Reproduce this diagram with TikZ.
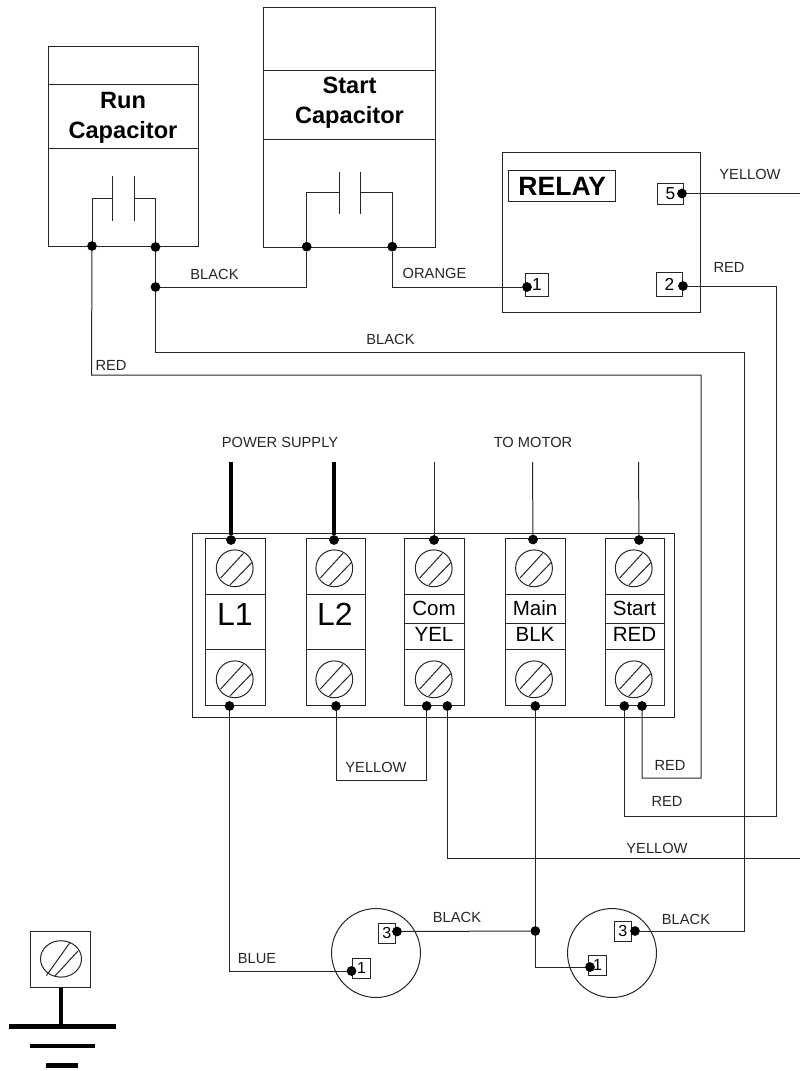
\documentclass[tikz,border=0pt]{standalone}
\usepackage{fontspec}
\setmainfont{Liberation Sans}
\usetikzlibrary{calc}
\tikzset{
  wire/.style={line width=0.75pt,draw=black!85},
  power/.style={line width=2.7pt,draw=black},
  box/.style={line width=0.75pt,draw=black!85},
  dot/.style={circle,fill=black,inner sep=0pt,minimum size=7.3pt,outer sep=0pt},
  lbl/.style={inner sep=0pt,font=\fontsize{11}{13}\selectfont,text=black!85},
  title/.style={inner sep=0pt,align=center,font=\fontsize{17.7}{22.5}\selectfont\bfseries},
  term/.style={inner sep=0pt,font=\fontsize{15.4}{18}\selectfont},
  big/.style={inner sep=0pt,font=\fontsize{24}{28}\selectfont},
  pinbox/.style={draw=black!85,line width=0.75pt,inner sep=0pt,fill=white,font=\fontsize{12}{14}\selectfont},
  motor/.style={circle,draw=black!85,line width=0.75pt,minimum size=66.7pt,inner sep=0pt},
}
\newcommand{\screwmark}[3]{%
  \coordinate (#1) at (#2,#3);
  \draw[wire] (#1) circle[radius=18.4];
  \draw[wire] ($(#1)+(-14,9.7)$) -- ($(#1)+(8.7,-15)$);
  \draw[wire] ($(#1)+(-4.7,16.7)$) -- ($(#1)+(17,-5.7)$);
}
\newcommand{\termstrip}[5]{% left right midflag name centre
  \draw[box] (#1,538.7) rectangle (#2,705.3);
  \draw[box] (#1,594.7) -- (#2,594.7);
  \draw[box] (#1,649) -- (#2,649);
  \ifx&#3&\else\draw[box] (#1,623) -- (#2,623);\fi
  \screwmark{s#4t}{#5}{568.3}
  \screwmark{s#4b}{#5}{679.3}
}
\begin{document}
\begin{tikzpicture}[x=0.75pt,y=-0.75pt]
\useasboundingbox (0,0) rectangle (800,1071);
% Run capacitor
\draw[box] (48.3,46) rectangle (198,246.7);
\draw[box] (48.3,84) -- (198,84);
\draw[box] (48.3,148) -- (198,148);
\node[title] (runlabel) at (123,117.5) {Run\\Capacitor};
\draw[wire] (112.3,176) -- (112.3,220.7);
\draw[wire] (134,176) -- (134,220.7);
% Start capacitor
\draw[box] (263.7,7) rectangle (435.7,247.5);
\draw[box] (263.7,70.5) -- (435.7,70.5);
\draw[box] (263.7,139.5) -- (435.7,139.5);
\node[title] (startlabel) at (349.5,103) {Start\\Capacitor};
\draw[wire] (339,172) -- (339,214);
\draw[wire] (360.3,172) -- (360.3,214);
% Relay
\draw[box] (502,152.7) rectangle (700,312);
\node[draw=black!85,line width=0.75pt,minimum width=80pt,minimum height=23.8pt,inner sep=0pt,font=\fontsize{19.9}{22}\selectfont\bfseries] (relay) at (562.2,186) {RELAY};
\node[pinbox,minimum width=19.5pt,minimum height=15.3pt,font=\fontsize{13}{15}\selectfont] (p5) at (670.5,194) {5};
\node[pinbox,minimum width=19.5pt,minimum height=17.5pt,font=\fontsize{13}{15}\selectfont] (p2) at (669.5,284.5) {2};
\node[pinbox,minimum width=17pt,minimum height=16.8pt,font=\fontsize{13}{15}\selectfont] (p1) at (537,285) {1};
% Terminal block
\draw[box] (192.3,533.3) rectangle (674,717.7);
\termstrip{205}{265}{}{a}{234.7}
\termstrip{306}{365}{}{b}{334.3}
\termstrip{404}{464}{x}{c}{433.7}
\termstrip{505}{565}{x}{d}{534}
\termstrip{605}{664}{x}{e}{633.7}
\node[big] (l1) at (235,614.5) {L1};
\node[big] (l2) at (335,614.5) {L2};
\node[term] (com) at (434,608) {Com};
\node[term] (yel) at (434,634) {YEL};
\node[term] (main) at (535,608) {Main};
\node[term] (blk) at (535,634) {BLK};
\node[term] (start) at (634.5,608) {Start};
\node[term] (red) at (634.5,634) {RED};
% Motor-side devices
\node[motor] (m1) at (376,953) {};
\node[motor] (m2) at (612,953) {};
\node[pinbox,minimum width=13pt,minimum height=15pt] (m1p3) at (386.7,933) {3};
\node[pinbox,minimum width=13pt,minimum height=15pt] (m1p1) at (361.5,968) {1};
\node[pinbox,minimum width=13pt,minimum height=15pt] (m2p3) at (622.7,931) {3};
\node[pinbox,minimum width=13pt,minimum height=15pt] (m2p1) at (597.5,965) {1};
% Ground
\draw[box] (30,931) rectangle (90,987.7);
\draw[wire] (61,958.9) ellipse[x radius=20.5,y radius=18.2];
\draw[wire] (46.5,975.5) -- (70,942.5);
\draw[wire] (54.5,976.5) -- (78,951);
\coordinate (gtop) at (61,987.7);
\coordinate (gbar) at (61,1026.7);
\draw[line width=3.2pt] (gtop) -- (gbar);
\coordinate (g1a) at (9,1026.7); \coordinate (g1b) at (116,1026.7);
\coordinate (g2a) at (30,1046); \coordinate (g2b) at (95,1046);
\coordinate (g3a) at (46,1065.7); \coordinate (g3b) at (78,1065.7);
\draw[line width=3.4pt] (g1a) -- (g1b);
\draw[line width=3.4pt] (g2a) -- (g2b);
\draw[line width=3.4pt] (g3a) -- (g3b);
% Dots
\node[dot] (rl) at (92,246) {};
\node[dot] (rr) at (155.5,247) {};
\node[dot] (rj) at (155.5,287) {};
\node[dot] (sl) at (306.7,246.7) {};
\node[dot] (sr) at (392.3,246.7) {};
\node[dot] (d1) at (527,287) {};
\node[dot] (d2) at (683,286) {};
\node[dot] (d5) at (682,193.5) {};
\node[dot] (ta) at (231,540) {};
\node[dot] (tb) at (334,540) {};
\node[dot] (tc) at (434,540) {};
\node[dot] (td) at (533,539.5) {};
\node[dot] (te) at (639,540) {};
\node[dot] (ba) at (229.5,706) {};
\node[dot] (bb) at (336,706) {};
\node[dot] (bc1) at (426.7,706) {};
\node[dot] (bc2) at (447.3,706) {};
\node[dot] (bd) at (535.3,706) {};
\node[dot] (be1) at (624.3,706) {};
\node[dot] (be2) at (642,706) {};
\node[dot] (md1) at (351.5,971) {};
\node[dot] (md3) at (397,931.5) {};
\node[dot] (nd1) at (590,967) {};
\node[dot] (nd3) at (635,931) {};
\node[dot] (j) at (535.3,931) {};
% Free wire ends and bends
\coordinate (pa) at (231,462);
\coordinate (pb) at (334,462);
\coordinate (pc) at (434,462);
\coordinate (pd) at (532.5,462);
\coordinate (pe) at (638.5,462);
\coordinate (e5) at (800,193.5);
\coordinate (ey) at (800,858);
\coordinate (cl) at (91,198);
\coordinate (cr) at (155.5,198);
\coordinate (sc) at (306.7,192);
\coordinate (sd) at (392.3,192);
\coordinate (rb) at (91.5,375);
\coordinate (rc) at (701,375);
\coordinate (rd) at (701,778);
\coordinate (bk1) at (155.5,352.7);
\coordinate (bk2) at (744,352.7);
\coordinate (rr1) at (776,286);
\coordinate (rr2) at (776,816);
\coordinate (yl) at (447.3,858);
\coordinate (yj) at (336,780);
\coordinate (yk) at (426.7,780);
\coordinate (cl2) at (112.3,198);
\coordinate (cr2) at (134,198);
\coordinate (sc2) at (339,192);
\coordinate (sd2) at (360.3,192);
% Capacitor leads
\draw[wire] (rl) -- (rl |- cl) -- (cl2);
\draw[wire] (rr) -- (cr) -- (cr2);
\draw[wire] (sl) -- (sc) -- (sc2);
\draw[wire] (sr) -- (sd) -- (sd2);
% Wires
\draw[wire] (rr) -- (rj);
\draw[wire] (rj) -| (sl);
\draw[wire] (sr) |- (d1);
\draw[wire] (rj) -- (bk1) -- (bk2) |- (nd3);
\draw[wire] (rl) -- (rb) -- (rc) -- (rd) -| (be2);
\draw[wire] (d2) -- (rr1) -- (rr2) -| (be1);
\draw[wire] (d5) -- (e5);
\draw[power] (pa) -- (ta);
\draw[power] (pb) -- (tb);
\draw[wire] (pc) -- (tc);
\draw[wire] (pd) -- (td);
\draw[wire] (pe) -- (te);
\draw[wire] (ba) |- (md1);
\draw[wire] (bb) -- (yj) -- (yk) -- (bc1);
\draw[wire] (bc2) -- (yl) -- (ey);
\draw[wire] (bd) -- (j);
\draw[wire] (j) |- (nd1);
\draw[wire] (md3) -- (j);
% Labels
\node[lbl] (t1) at (214.5,274) {BLACK};
\node[lbl] (t2) at (390.5,339) {BLACK};
\node[lbl] (t3) at (111,365) {RED};
\node[lbl] (t4) at (280,442) {POWER SUPPLY};
\node[lbl] (t5) at (533,442) {TO MOTOR};
\node[lbl] (t6) at (750,174) {YELLOW};
\node[lbl] (t7) at (729,267) {RED};
\node[lbl] (t8) at (434.5,273) {ORANGE};
\node[lbl] (t9) at (376,767) {YELLOW};
\node[lbl] (t10) at (670,765) {RED};
\node[lbl] (t11) at (667,801) {RED};
\node[lbl] (t12) at (657,848) {YELLOW};
\node[lbl] (t13) at (457,917) {BLACK};
\node[lbl] (t14) at (686,919) {BLACK};
\node[lbl] (t15) at (257,959) {BLUE};
\end{tikzpicture}
\end{document}
